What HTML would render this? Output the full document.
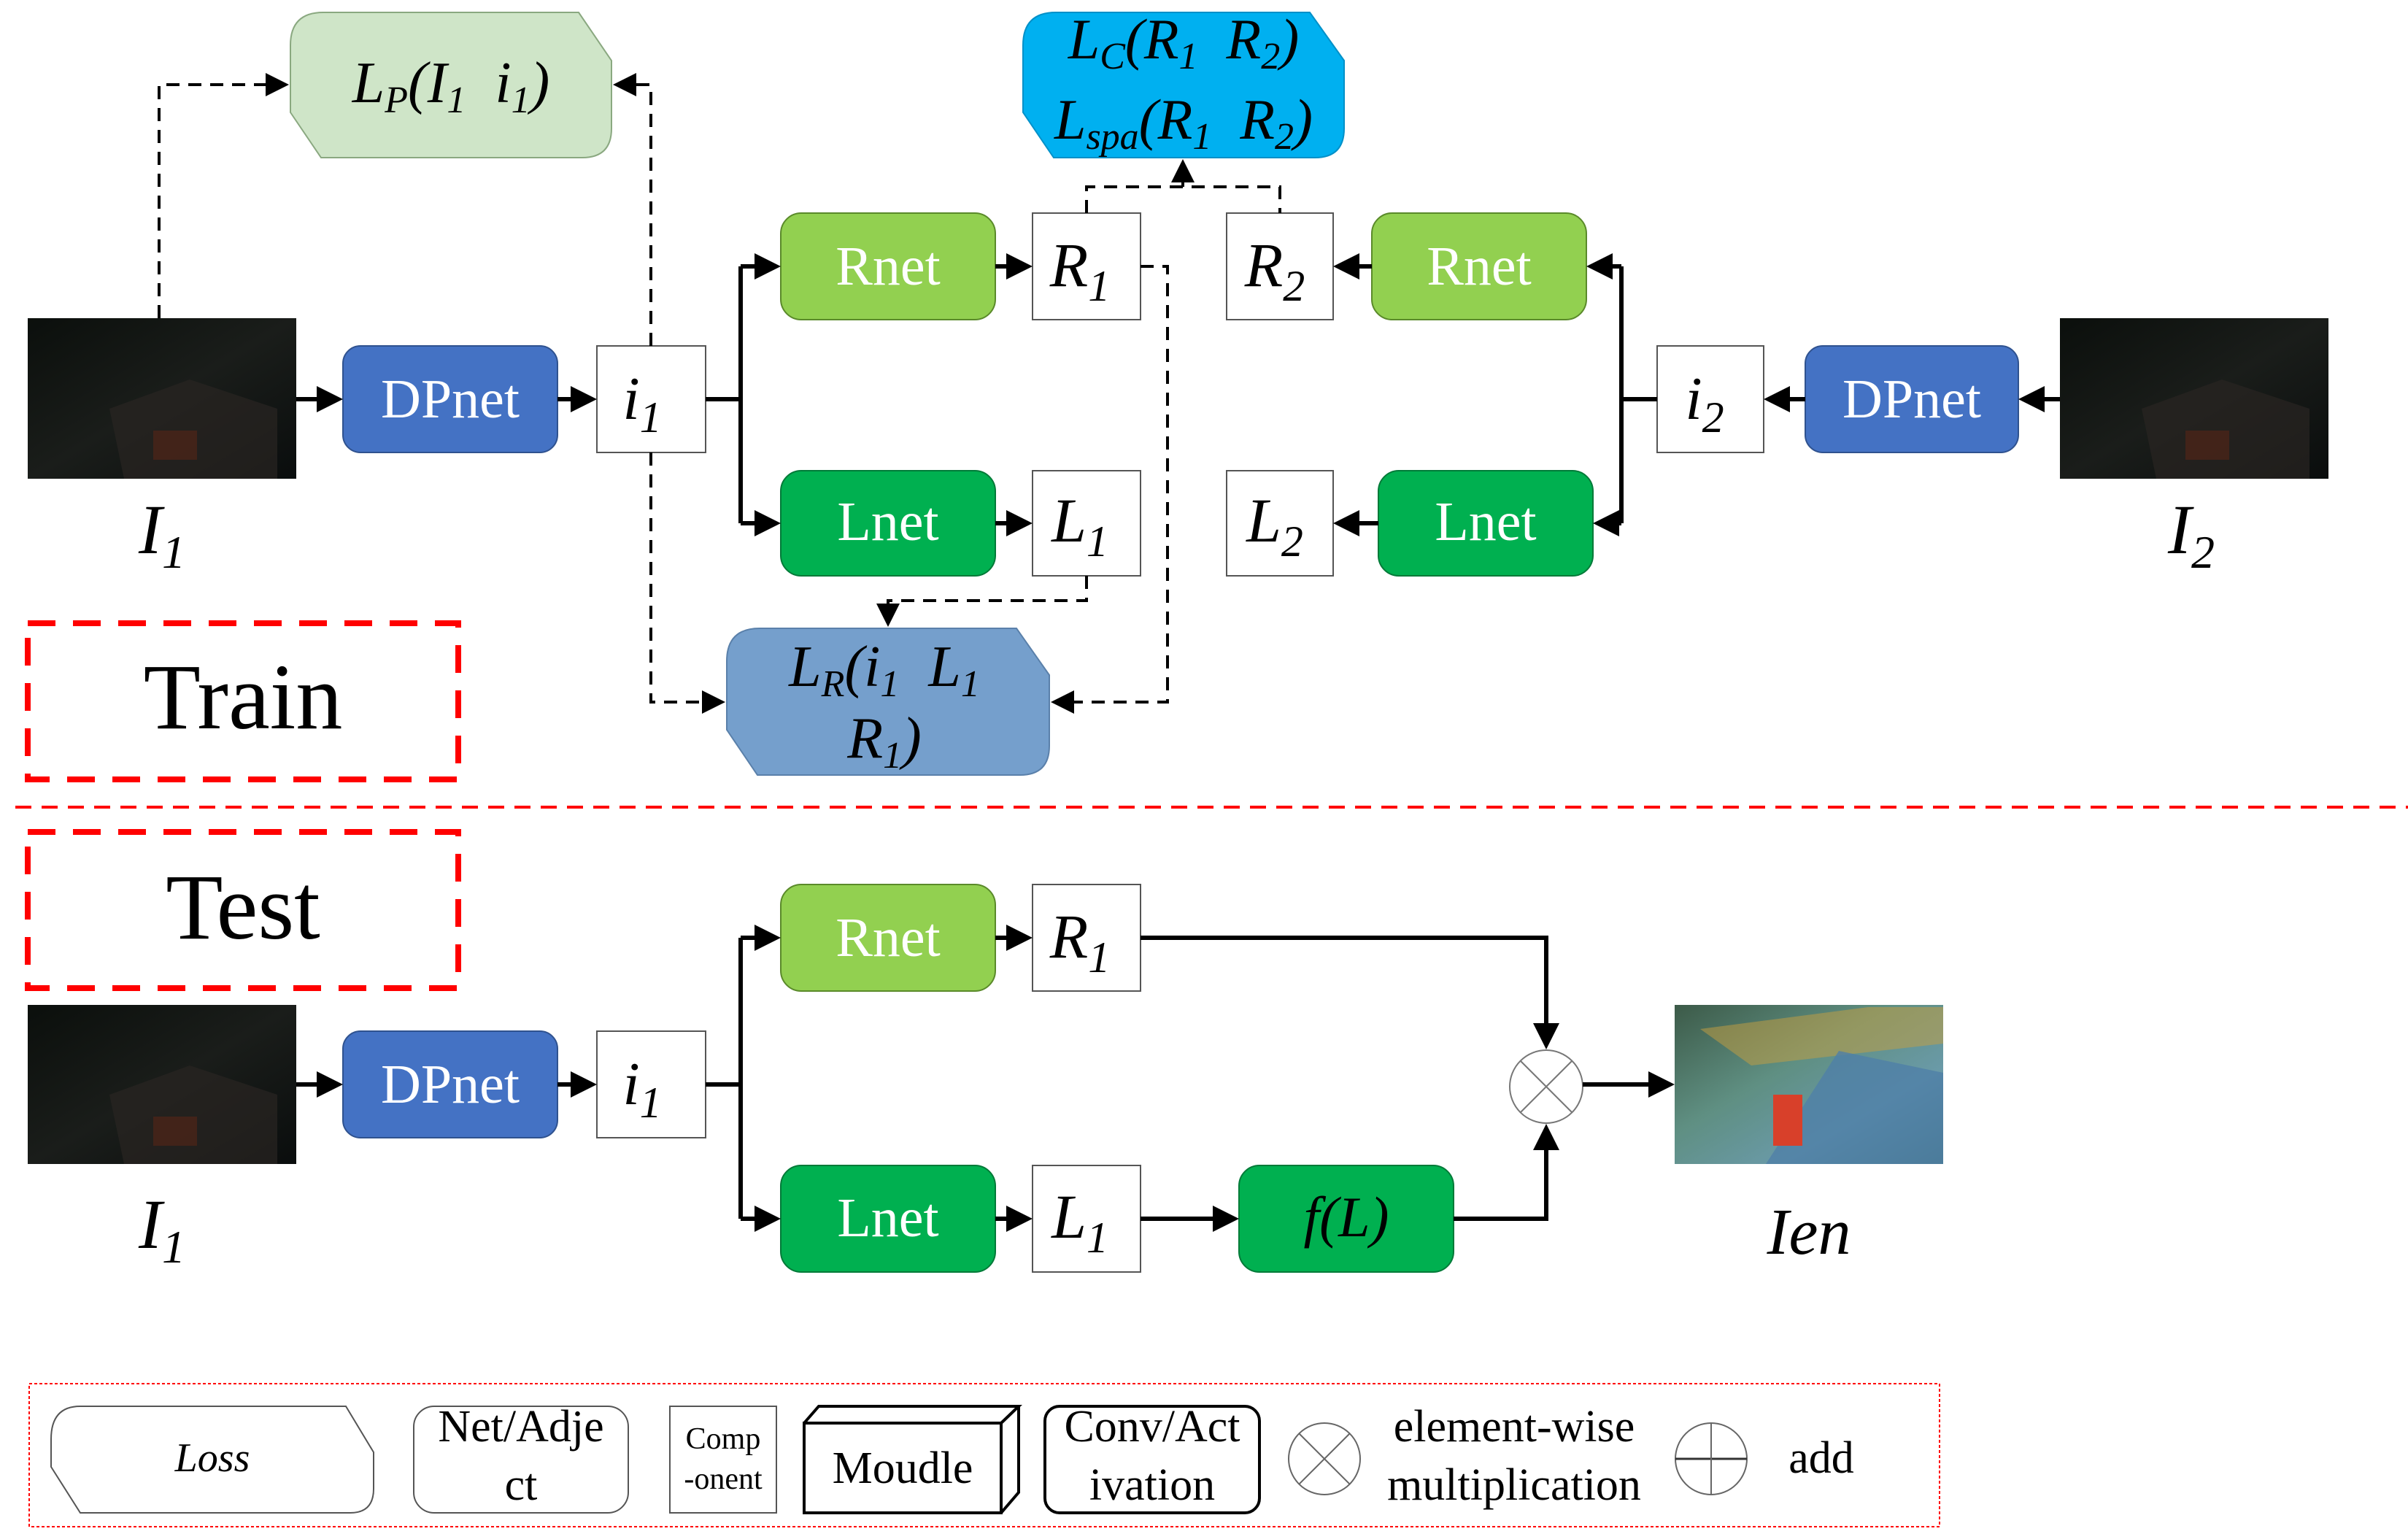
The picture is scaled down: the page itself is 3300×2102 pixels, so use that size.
<!DOCTYPE html>
<html><head><meta charset="utf-8"><style>
html,body{margin:0;padding:0;background:#fff;}
svg{display:block;}
svg text{font-family:"Liberation Serif","Times New Roman","DejaVu Serif",serif;white-space:pre;}
.it{font-style:italic;}
</style></head><body>
<svg width="3300" height="2102" viewBox="0 0 3300 2102" xmlns="http://www.w3.org/2000/svg" font-family="Liberation Serif, serif" xml:space="preserve">
<defs>
<marker id="a" markerWidth="6" markerHeight="6" refX="5" refY="3" orient="auto" markerUnits="strokeWidth"><path d="M0,0 L6,3 L0,6 Z" fill="#000"/></marker>
<marker id="d" markerWidth="8" markerHeight="8" refX="7" refY="4" orient="auto" markerUnits="strokeWidth"><path d="M0,0 L8,4 L0,8 Z" fill="#000"/></marker>
<linearGradient id="dark" x1="0" y1="0" x2="1" y2="1"><stop offset="0" stop-color="#0b0f0c"/><stop offset="0.5" stop-color="#1a1d1a"/><stop offset="1" stop-color="#0a0d0d"/></linearGradient>
<linearGradient id="bright" x1="0" y1="0" x2="1" y2="1"><stop offset="0" stop-color="#3c5a48"/><stop offset="0.4" stop-color="#5f8f82"/><stop offset="0.7" stop-color="#6a9aa8"/><stop offset="1" stop-color="#3e6d6a"/></linearGradient>
</defs>

<rect x="38" y="436" width="368" height="220" fill="url(#dark)"/>
<polygon points="150,560 260,520 380,560 380,656 170,656" fill="#2a2522" opacity="0.7"/>
<rect x="210" y="590" width="60" height="40" fill="#4a2418" opacity="0.8"/>
<rect x="2823" y="436" width="368" height="220" fill="url(#dark)"/>
<polygon points="2935,560 3045,520 3165,560 3165,656 2955,656" fill="#2a2522" opacity="0.7"/>
<rect x="2995" y="590" width="60" height="40" fill="#4a2418" opacity="0.8"/>

<rect x="470" y="474" width="294" height="146" rx="24" fill="#4472C4" stroke="#2f528f" stroke-width="2"/>
<text x="617" y="572" font-size="76" fill="#fff" text-anchor="middle">DPnet</text>
<rect x="818" y="474" width="149" height="146" fill="#fff" stroke="#555" stroke-width="2"/>
<text x="880" y="574" font-size="84" class="it" text-anchor="middle">i<tspan font-size="60" dy="18">1</tspan></text>

<rect x="1070" y="292" width="294" height="146" rx="28" fill="#92D050" stroke="#5a8a2a" stroke-width="2"/>
<text x="1217" y="390" font-size="76" fill="#fff" text-anchor="middle">Rnet</text>
<rect x="1415" y="292" width="148" height="146" fill="#fff" stroke="#555" stroke-width="2"/>
<text x="1480" y="392" font-size="86" class="it" text-anchor="middle">R<tspan font-size="60" dy="20">1</tspan></text>

<rect x="1070" y="645" width="294" height="144" rx="28" fill="#00B050" stroke="#007a38" stroke-width="2"/>
<text x="1217" y="740" font-size="76" fill="#fff" text-anchor="middle">Lnet</text>
<rect x="1415" y="645" width="148" height="144" fill="#fff" stroke="#555" stroke-width="2"/>
<text x="1480" y="742" font-size="86" class="it" text-anchor="middle">L<tspan font-size="60" dy="20">1</tspan></text>

<rect x="1681" y="292" width="146" height="146" fill="#fff" stroke="#555" stroke-width="2"/>
<text x="1747" y="392" font-size="86" class="it" text-anchor="middle">R<tspan font-size="60" dy="20">2</tspan></text>
<rect x="1880" y="292" width="294" height="146" rx="28" fill="#92D050" stroke="#5a8a2a" stroke-width="2"/>
<text x="2027" y="390" font-size="76" fill="#fff" text-anchor="middle">Rnet</text>
<rect x="1681" y="645" width="146" height="144" fill="#fff" stroke="#555" stroke-width="2"/>
<text x="1747" y="742" font-size="86" class="it" text-anchor="middle">L<tspan font-size="60" dy="20">2</tspan></text>
<rect x="1889" y="645" width="294" height="144" rx="28" fill="#00B050" stroke="#007a38" stroke-width="2"/>
<text x="2036" y="740" font-size="76" fill="#fff" text-anchor="middle">Lnet</text>

<rect x="2271" y="474" width="146" height="146" fill="#fff" stroke="#555" stroke-width="2"/>
<text x="2336" y="574" font-size="84" class="it" text-anchor="middle">i<tspan font-size="60" dy="18">2</tspan></text>
<rect x="2474" y="474" width="292" height="146" rx="24" fill="#4472C4" stroke="#2f528f" stroke-width="2"/>
<text x="2620" y="572" font-size="76" fill="#fff" text-anchor="middle">DPnet</text>

<path d="M398,62 Q398,17 443,17 L793,17 L838,83 L838,176 Q838,216 798,216 L440,216 L398,154 Z" fill="#CFE5C8" stroke="#8aa880" stroke-width="2"/>
<text x="618" y="140" font-size="80" class="it" text-anchor="middle">L<tspan font-size="52" dy="14">P</tspan><tspan dy="-14">(I</tspan><tspan font-size="52" dy="14">1</tspan><tspan dy="-14">  i</tspan><tspan font-size="52" dy="14">1</tspan><tspan dy="-14">)</tspan></text>

<path d="M996,906 Q996,861 1041,861 L1393,861 L1438,925 L1438,1022 Q1438,1062 1398,1062 L1038,1062 L996,1000 Z" fill="#759FCC" stroke="#5a80aa" stroke-width="2"/>
<text x="1212" y="940" font-size="80" class="it" text-anchor="middle">L<tspan font-size="52" dy="14">R</tspan><tspan dy="-14">(i</tspan><tspan font-size="52" dy="14">1</tspan><tspan dy="-14">  L</tspan><tspan font-size="52" dy="14">1</tspan></text>
<text x="1212" y="1038" font-size="80" class="it" text-anchor="middle">R<tspan font-size="52" dy="14">1</tspan><tspan dy="-14">)</tspan></text>

<path d="M1402,62 Q1402,17 1447,17 L1795,17 L1842,83 L1842,176 Q1842,216 1802,216 L1444,216 L1402,154 Z" fill="#00B0F0" stroke="#0090c8" stroke-width="2"/>
<text x="1622" y="80" font-size="78" class="it" text-anchor="middle">L<tspan font-size="52" dy="14">C</tspan><tspan dy="-14">(R</tspan><tspan font-size="52" dy="14">1</tspan><tspan dy="-14">  R</tspan><tspan font-size="52" dy="14">2</tspan><tspan dy="-14">)</tspan></text>
<text x="1622" y="190" font-size="78" class="it" text-anchor="middle">L<tspan font-size="52" dy="14">spa</tspan><tspan dy="-14">(R</tspan><tspan font-size="52" dy="14">1</tspan><tspan dy="-14">  R</tspan><tspan font-size="52" dy="14">2</tspan><tspan dy="-14">)</tspan></text>

<text x="222" y="758" font-size="96" class="it" text-anchor="middle">I<tspan font-size="64" dy="20">1</tspan></text>
<text x="3003" y="758" font-size="96" class="it" text-anchor="middle">I<tspan font-size="64" dy="20">2</tspan></text>

<g stroke="#000" stroke-width="6" fill="none">
<line x1="406" y1="547" x2="464" y2="547" marker-end="url(#a)"/>
<line x1="764" y1="547" x2="812" y2="547" marker-end="url(#a)"/>
<path d="M967,547 H1015"/>
<path d="M1015,365 V717"/>
<line x1="1015" y1="365" x2="1064" y2="365" marker-end="url(#a)"/>
<line x1="1015" y1="717" x2="1064" y2="717" marker-end="url(#a)"/>
<line x1="1364" y1="365" x2="1409" y2="365" marker-end="url(#a)"/>
<line x1="1364" y1="717" x2="1409" y2="717" marker-end="url(#a)"/>
<line x1="2823" y1="547" x2="2772" y2="547" marker-end="url(#a)"/>
<line x1="2474" y1="547" x2="2423" y2="547" marker-end="url(#a)"/>
<path d="M2271,547 H2222"/>
<path d="M2222,365 V717"/>
<line x1="2222" y1="365" x2="2180" y2="365" marker-end="url(#a)"/>
<line x1="2222" y1="717" x2="2189" y2="717" marker-end="url(#a)"/>
<line x1="1880" y1="365" x2="1833" y2="365" marker-end="url(#a)"/>
<line x1="1889" y1="717" x2="1833" y2="717" marker-end="url(#a)"/>
</g>

<g stroke="#000" stroke-width="4" fill="none" stroke-dasharray="18,12">
<path d="M218,436 V116 H392" marker-end="url(#d)"/>
<path d="M892,474 V116 H844" marker-end="url(#d)"/>
<path d="M892,620 V962 H990" marker-end="url(#d)"/>
<path d="M1489,789 V823 H1217 V855" marker-end="url(#d)"/>
<path d="M1563,365 H1600 V962 H1444" marker-end="url(#d)"/>
<path d="M1489,292 V256 H1754 V292"/>
</g>
<line x1="1621" y1="256" x2="1621" y2="222" stroke="#000" stroke-width="4" marker-end="url(#d)"/>

<rect x="38" y="854" width="590" height="214" fill="none" stroke="#f00" stroke-width="8" stroke-dasharray="38,24"/>
<text x="333" y="998" font-size="128" text-anchor="middle">Train</text>
<line x1="21" y1="1106" x2="3300" y2="1106" stroke="#f00" stroke-width="4" stroke-dasharray="22,14"/>
<rect x="38" y="1140" width="590" height="214" fill="none" stroke="#f00" stroke-width="8" stroke-dasharray="38,24"/>
<text x="333" y="1286" font-size="128" text-anchor="middle">Test</text>

<rect x="38" y="1377" width="368" height="218" fill="url(#dark)"/>
<polygon points="150,1500 260,1460 380,1500 380,1595 170,1595" fill="#2a2522" opacity="0.7"/>
<rect x="210" y="1530" width="60" height="40" fill="#4a2418" opacity="0.8"/>
<rect x="470" y="1413" width="294" height="146" rx="24" fill="#4472C4" stroke="#2f528f" stroke-width="2"/>
<text x="617" y="1511" font-size="76" fill="#fff" text-anchor="middle">DPnet</text>
<rect x="818" y="1413" width="149" height="146" fill="#fff" stroke="#555" stroke-width="2"/>
<text x="880" y="1513" font-size="84" class="it" text-anchor="middle">i<tspan font-size="60" dy="18">1</tspan></text>
<rect x="1070" y="1212" width="294" height="146" rx="28" fill="#92D050" stroke="#5a8a2a" stroke-width="2"/>
<text x="1217" y="1310" font-size="76" fill="#fff" text-anchor="middle">Rnet</text>
<rect x="1415" y="1212" width="148" height="146" fill="#fff" stroke="#555" stroke-width="2"/>
<text x="1480" y="1312" font-size="86" class="it" text-anchor="middle">R<tspan font-size="60" dy="20">1</tspan></text>
<rect x="1070" y="1597" width="294" height="146" rx="28" fill="#00B050" stroke="#007a38" stroke-width="2"/>
<text x="1217" y="1694" font-size="76" fill="#fff" text-anchor="middle">Lnet</text>
<rect x="1415" y="1597" width="148" height="146" fill="#fff" stroke="#555" stroke-width="2"/>
<text x="1480" y="1696" font-size="86" class="it" text-anchor="middle">L<tspan font-size="60" dy="20">1</tspan></text>
<rect x="1698" y="1597" width="294" height="146" rx="28" fill="#00B050" stroke="#007a38" stroke-width="2"/>
<text x="1845" y="1694" font-size="78" class="it" text-anchor="middle">f(L)</text>
<circle cx="2119" cy="1489" r="50" fill="#fff" stroke="#777" stroke-width="2"/>
<line x1="2084" y1="1454" x2="2154" y2="1524" stroke="#777" stroke-width="2"/>
<line x1="2154" y1="1454" x2="2084" y2="1524" stroke="#777" stroke-width="2"/>
<rect x="2295" y="1377" width="368" height="218" fill="url(#bright)"/>
<polygon points="2330,1410 2560,1380 2663,1380 2663,1430 2400,1460" fill="#c8a040" opacity="0.5"/>
<polygon points="2420,1595 2520,1440 2663,1470 2663,1595" fill="#4f7fa8" opacity="0.8"/>
<rect x="2430" y="1500" width="40" height="70" fill="#d8402a"/>
<text x="222" y="1710" font-size="96" class="it" text-anchor="middle">I<tspan font-size="64" dy="20">1</tspan></text>
<text x="2479" y="1718" font-size="90" class="it" text-anchor="middle">Ien</text>

<g stroke="#000" stroke-width="6" fill="none">
<line x1="406" y1="1486" x2="464" y2="1486" marker-end="url(#a)"/>
<line x1="764" y1="1486" x2="812" y2="1486" marker-end="url(#a)"/>
<path d="M967,1486 H1015"/>
<path d="M1015,1285 V1670"/>
<line x1="1015" y1="1285" x2="1064" y2="1285" marker-end="url(#a)"/>
<line x1="1015" y1="1670" x2="1064" y2="1670" marker-end="url(#a)"/>
<line x1="1364" y1="1285" x2="1409" y2="1285" marker-end="url(#a)"/>
<line x1="1364" y1="1670" x2="1409" y2="1670" marker-end="url(#a)"/>
<line x1="1563" y1="1670" x2="1692" y2="1670" marker-end="url(#a)"/>
<path d="M1563,1285 H2119 V1432" marker-end="url(#a)"/>
<path d="M1992,1670 H2119 V1546" marker-end="url(#a)"/>
<line x1="2169" y1="1486" x2="2289" y2="1486" marker-end="url(#a)"/>
</g>

<rect x="40" y="1896" width="2618" height="196" fill="none" stroke="#f00" stroke-width="2" stroke-dasharray="4,3"/>
<path d="M70,1972 Q70,1927 110,1927 L474,1927 L512,1990 L512,2040 Q512,2073 480,2073 L110,2073 L70,2010 Z" fill="#fff" stroke="#555" stroke-width="2"/>
<text x="291" y="2016" font-size="56" class="it" text-anchor="middle">Loss</text>
<rect x="567" y="1927" width="294" height="146" rx="28" fill="#fff" stroke="#555" stroke-width="2"/>
<text x="714" y="1975" font-size="62" text-anchor="middle">Net/Adje</text>
<text x="714" y="2055" font-size="62" text-anchor="middle">ct</text>
<rect x="918" y="1927" width="146" height="146" fill="#fff" stroke="#555" stroke-width="2"/>
<text x="991" y="1985" font-size="42" text-anchor="middle">Comp</text>
<text x="991" y="2040" font-size="42" text-anchor="middle">-onent</text>
<rect x="1102" y="1950" width="270" height="123" fill="#fff" stroke="#000" stroke-width="4"/>
<path d="M1102,1950 L1122,1927 L1396,1927 L1372,1950 M1396,1927 L1396,2045 L1372,2073" fill="none" stroke="#000" stroke-width="4"/>
<text x="1237" y="2032" font-size="62" text-anchor="middle">Moudle</text>
<rect x="1432" y="1927" width="294" height="146" rx="20" fill="#fff" stroke="#000" stroke-width="4"/>
<text x="1579" y="1975" font-size="62" text-anchor="middle">Conv/Act</text>
<text x="1579" y="2055" font-size="62" text-anchor="middle">ivation</text>
<circle cx="1815" cy="1999" r="49" fill="#fff" stroke="#666" stroke-width="2"/>
<line x1="1780" y1="1964" x2="1850" y2="2034" stroke="#666" stroke-width="2"/>
<line x1="1850" y1="1964" x2="1780" y2="2034" stroke="#666" stroke-width="2"/>
<text x="2075" y="1975" font-size="62" text-anchor="middle">element-wise</text>
<text x="2075" y="2055" font-size="62" text-anchor="middle">multiplication</text>
<circle cx="2345" cy="1999" r="49" fill="#fff" stroke="#666" stroke-width="2"/>
<line x1="2296" y1="1999" x2="2394" y2="1999" stroke="#333" stroke-width="3"/>
<line x1="2345" y1="1950" x2="2345" y2="2048" stroke="#666" stroke-width="2"/>
<text x="2496" y="2018" font-size="62" text-anchor="middle">add</text>
</svg>
</body></html>
